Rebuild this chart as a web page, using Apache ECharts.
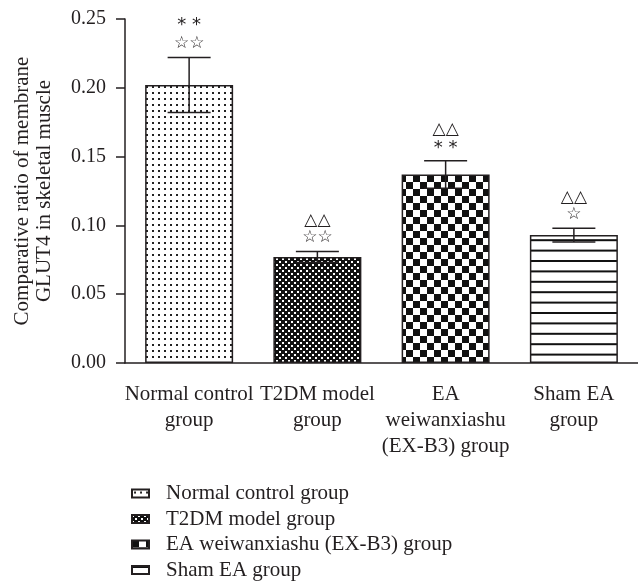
<!DOCTYPE html>
<html>
<head>
<meta charset="utf-8">
<script src="https://cdn.jsdelivr.net/npm/echarts@6/dist/echarts.min.js"></script>
<style>
  html, body { margin: 0; padding: 0; background: #fff; }
  #chart { width: 638px; height: 586px; }
</style>
</head>
<body>
<div id="chart"></div>
<script>
// data
var categories = ['Normal control\ngroup', 'T2DM model\ngroup', 'EA\nweiwanxiashu\n(EX-B3) group', 'Sham EA\ngroup'];
var groupNames = ['Normal control group', 'T2DM model group', 'EA weiwanxiashu (EX-B3) group', 'Sham EA group'];
var means = [0.202, 0.077, 0.137, 0.093];
var errors = [0.020, 0.004, 0.010, 0.005];
var marksLow = ['☆☆', '☆☆', '* *', '☆'];
var marksHigh = ['* *', '△△', '△△', '△△'];

var ink = '#231f20';
var serif = '"Liberation Serif", "Times New Roman", serif';

// hatch patterns
function makePattern(kind) {
  var c = document.createElement('canvas');
  var ctx;
  if (kind === 'dots') {
    c.width = 6; c.height = 6;
    ctx = c.getContext('2d');
    ctx.fillStyle = '#fff'; ctx.fillRect(0, 0, 6, 6);
    ctx.fillStyle = '#222'; ctx.fillRect(2, 2, 2, 2);
  } else if (kind === 'fine') {
    c.width = 6; c.height = 6;
    ctx = c.getContext('2d');
    ctx.fillStyle = '#111'; ctx.fillRect(0, 0, 6, 6);
    ctx.fillStyle = '#fff'; ctx.fillRect(0, 0, 2, 2); ctx.fillRect(3, 3, 2, 2);
  } else if (kind === 'checker') {
    c.width = 14; c.height = 14;
    ctx = c.getContext('2d');
    ctx.fillStyle = '#fff'; ctx.fillRect(0, 0, 14, 14);
    ctx.fillStyle = '#111'; ctx.fillRect(0, 0, 7, 7); ctx.fillRect(7, 7, 7, 7);
  } else {
    c.width = 4; c.height = 52;
    ctx = c.getContext('2d');
    ctx.fillStyle = '#fff'; ctx.fillRect(0, 0, 4, 52);
    ctx.fillStyle = '#111';
    for (var k = 0; k < 5; k++) ctx.fillRect(0, k * 10.4, 4, 2);
  }
  return { image: c, repeat: 'repeat' };
}
var fills = [makePattern('dots'), makePattern('fine'), makePattern('checker'), makePattern('lines')];

var Chart = echarts.init(document.getElementById('chart'));

var series = [];
groupNames.forEach(function (name, i) {
  var d = categories.map(function (c, j) { return j === i ? means[i] : '-'; });
  series.push({
    name: name,
    type: 'bar',
    data: d,
    barWidth: 88,
    barGap: '-100%',
    itemStyle: { color: fills[i], borderColor: ink, borderWidth: 1.5 }
  });
});

// error bars + significance marks
function isStar(t) { return t.indexOf('*') >= 0; }
function markFont(t) {
  return isStar(t) ? '18px "DejaVu Sans"' : '17px "DejaVu Sans"';
}
series.push({
  type: 'custom',
  z: 10,
  silent: true,
  data: means.map(function (m, i) { return [i, m, errors[i]]; }),
  encode: { x: 0, y: 1 },
  renderItem: function (params, api) {
    var i = params.dataIndex;
    var m = api.value(1), e = api.value(2);
    var top = api.coord([i, m + e]);
    var bot = api.coord([i, m - e]);
    var x = top[0], hw = 21.5;
    var ls = { stroke: ink, lineWidth: 1.5 };
    var lowY = top[1] - 14 + (isStar(marksLow[i]) ? 2 : 0);
    var highY = top[1] - 31 + (isStar(marksHigh[i]) ? -1 : 0);
    return {
      type: 'group',
      children: [
        { type: 'line', shape: { x1: x, y1: top[1], x2: x, y2: bot[1] }, style: ls },
        { type: 'line', shape: { x1: x - hw, y1: top[1], x2: x + hw, y2: top[1] }, style: ls },
        { type: 'line', shape: { x1: x - hw, y1: bot[1], x2: x + hw, y2: bot[1] }, style: ls },
        { type: 'text', style: { text: marksLow[i], x: x, y: lowY,
            font: markFont(marksLow[i]), fill: ink, align: 'center', verticalAlign: 'middle' } },
        { type: 'text', style: { text: marksHigh[i], x: x, y: highY,
            font: markFont(marksHigh[i]), fill: ink, align: 'center', verticalAlign: 'middle' } }
      ]
    };
  }
});

var options = {
  animation: false,
  backgroundColor: '#fff',
  grid: { left: 125, top: 19, width: 517, height: 344 },
  legend: {
    orient: 'vertical',
    left: 131,
    top: 483,
    padding: 0,
    icon: 'rect',
    itemWidth: 17,
    itemHeight: 8,
    itemGap: 4.5,
    data: groupNames,
    textStyle: { fontFamily: serif, fontSize: 21, color: ink, lineHeight: 21, padding: [0, 0, 0, 12] }
  },
  xAxis: {
    type: 'category',
    data: categories,
    axisLine: { lineStyle: { color: ink, width: 1.5 } },
    axisTick: { alignWithLabel: true, length: 9, lineStyle: { color: ink, width: 1.5 } },
    axisLabel: { fontFamily: serif, fontSize: 21, color: ink, lineHeight: 26, margin: 18, interval: 0 }
  },
  yAxis: {
    type: 'value',
    min: 0,
    max: 0.25,
    interval: 0.05,
    name: 'Comparative ratio of membrane\nGLUT4 in skeletal muscle',
    nameLocation: 'middle',
    nameGap: 70,
    nameTextStyle: { fontFamily: serif, fontSize: 21, color: ink, lineHeight: 22, padding: [0, 0, 0, 0] },
    splitLine: { show: false },
    axisLine: { show: true, lineStyle: { color: ink, width: 1.5 } },
    axisTick: { show: true, length: 9, lineStyle: { color: ink, width: 1.5 } },
    axisLabel: {
      fontFamily: serif, fontSize: 20, color: ink, margin: 19,
      formatter: function (v) { return v.toFixed(2); }
    }
  },
  series: series
};
Chart.setOption(options);
</script>
</body>
</html>
